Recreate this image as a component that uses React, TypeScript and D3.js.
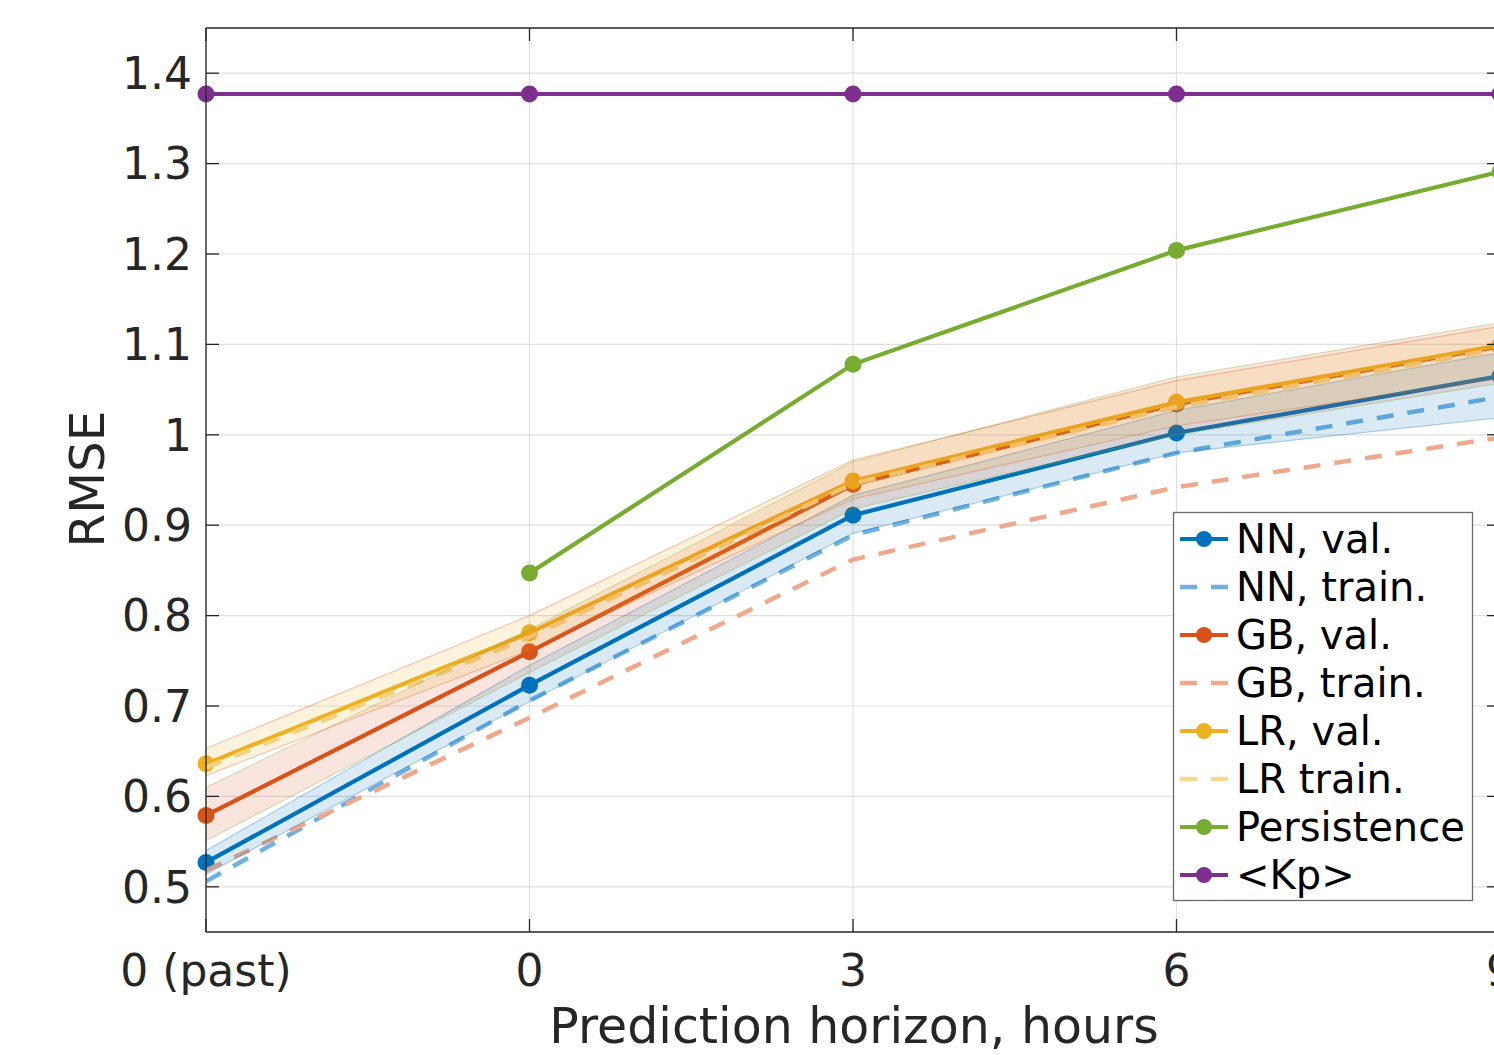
import React, { useEffect, useRef } from 'react';
import * as d3 from 'd3';

// horizon categories (the last one, "9", is cut off at the right edge)
const categories = ['0 (past)', '0', '3', '6', '9'];

// RMSE per model
const nnVal = [0.527, 0.723, 0.911, 1.002, 1.065];
const nnTrain = [0.506, 0.706, 0.889, 0.980, 1.042];
const gbVal = [0.579, 0.760, 0.945, 1.034, 1.098];
const gbTrain = [0.518, 0.687, 0.862, 0.942, 0.997];
const lrVal = [0.636, 0.781, 0.949, 1.036, 1.099];
const lrTrain = [0.632, 0.776, 0.946, 1.031, 1.095];
const persistence = [null, 0.847, 1.078, 1.204, 1.291];
const kpMean = [1.377, 1.377, 1.377, 1.377, 1.377];

// spread bands (lower / upper)
const nnLow = [0.514, 0.705, 0.891, 0.980, 1.019];
const nnHigh = [0.540, 0.745, 0.933, 1.027, 1.091];
const gbLow = [0.551, 0.737, 0.918, 1.000, 1.057];
const gbHigh = [0.610, 0.785, 0.970, 1.064, 1.124];
const lrLow = [0.623, 0.762, 0.929, 1.010, 1.062];
const lrHigh = [0.653, 0.800, 0.972, 1.060, 1.120];

const yTicks = [0.5, 0.6, 0.7, 0.8, 0.9, 1.0, 1.1, 1.2, 1.3, 1.4];

const BLUE = '#0072BD';
const ORANGE = '#D95319';
const YELLOW = '#EDB120';
const GREEN = '#77AC30';
const PURPLE = '#7E2F8E';

const series = [
  { name: 'NN, val.', values: nnVal, color: BLUE, dash: null, marker: true, width: 4.2 },
  { name: 'NN, train.', values: nnTrain, color: '#6fb0e0', dash: '17,14', marker: false, width: 4.5 },
  { name: 'GB, val.', values: gbVal, color: ORANGE, dash: null, marker: true, width: 4.2 },
  { name: 'GB, train.', values: gbTrain, color: '#f0a88c', dash: '17,14', marker: false, width: 4.5 },
  { name: 'LR, val.', values: lrVal, color: YELLOW, dash: null, marker: true, width: 4.2 },
  { name: 'LR train.', values: lrTrain, color: '#f6d98e', dash: '17,14', marker: false, width: 4.5 },
  { name: 'Persistence', values: persistence, color: GREEN, dash: null, marker: true, width: 4.2 },
  { name: '<Kp>', values: kpMean, color: PURPLE, dash: null, marker: true, width: 4.2 },
];

const bands = [
  { low: nnLow, high: nnHigh, fill: BLUE, edge: BLUE },
  { low: gbLow, high: gbHigh, fill: ORANGE, edge: GREEN },
  { low: lrLow, high: lrHigh, fill: YELLOW, edge: ORANGE },
];

const FONT = '"DejaVu Sans", sans-serif';
const AXIS = '#262626';

export default function App() {
  const ref = useRef(null);

  useEffect(() => {
    const width = 1494;
    const height = 1055;
    const left = 206, right = 1500, top = 28, bottom = 932;

    const svg = d3.select(ref.current);
    svg.selectAll('*').remove();
    svg.attr('width', width).attr('height', height);

    svg.append('rect').attr('width', width).attr('height', height).attr('fill', '#fff');

    const x = d3.scalePoint().domain(categories).range([left, right]);
    const y = d3.scaleLinear().domain([0.45, 1.45]).range([bottom, top]);

    // grid
    const grid = svg.append('g');
    grid.selectAll('.gx')
      .data(categories)
      .join('line')
      .attr('x1', d => x(d)).attr('x2', d => x(d))
      .attr('y1', top).attr('y2', bottom)
      .attr('stroke', '#dfdfdf').attr('stroke-width', 1.2);
    grid.selectAll('.gy')
      .data(yTicks)
      .join('line')
      .attr('x1', left).attr('x2', right)
      .attr('y1', d => y(d)).attr('y2', d => y(d))
      .attr('stroke', '#dfdfdf').attr('stroke-width', 1.2);

    // lines
    const line = d3.line()
      .defined(d => d != null)
      .x((d, i) => x(categories[i]))
      .y(d => y(d));

    series.forEach(s => {
      svg.append('path')
        .datum(s.values)
        .attr('fill', 'none')
        .attr('stroke', s.color)
        .attr('stroke-width', s.width)
        .attr('stroke-dasharray', s.dash)
        .attr('d', line);
      if (s.marker) {
        svg.append('g')
          .selectAll('circle')
          .data(s.values.map((v, i) => ({ v, i })).filter(d => d.v != null))
          .join('circle')
          .attr('cx', d => x(categories[d.i]))
          .attr('cy', d => y(d.v))
          .attr('r', 8.5)
          .attr('fill', s.color);
      }
    });

    // shaded spread, drawn over the lines like the original
    const area = d3.area()
      .x((d, i) => x(categories[i]))
      .y0(d => y(d[0]))
      .y1(d => y(d[1]));

    bands.forEach(b => {
      const pts = b.low.map((v, i) => [v, b.high[i]]);
      svg.append('path')
        .datum(pts)
        .attr('fill', b.fill)
        .attr('fill-opacity', 0.15)
        .attr('stroke', b.edge)
        .attr('stroke-opacity', 0.3)
        .attr('stroke-width', 1.2)
        .attr('d', area);
    });

    // axes box
    const ax = svg.append('g').attr('stroke', AXIS).attr('stroke-width', 1.3);
    ax.append('line').attr('x1', left).attr('x2', left).attr('y1', top).attr('y2', bottom);
    ax.append('line').attr('x1', left).attr('x2', right).attr('y1', top).attr('y2', top);
    ax.append('line').attr('x1', left).attr('x2', right).attr('y1', bottom).attr('y2', bottom);
    ax.append('line').attr('x1', right).attr('x2', right).attr('y1', top).attr('y2', bottom);

    const tl = 13;
    yTicks.forEach(t => {
      ax.append('line').attr('x1', left).attr('x2', left + tl).attr('y1', y(t)).attr('y2', y(t));
      ax.append('line').attr('x1', right).attr('x2', right - tl).attr('y1', y(t)).attr('y2', y(t));
    });
    categories.forEach(c => {
      ax.append('line').attr('x1', x(c)).attr('x2', x(c)).attr('y1', bottom).attr('y2', bottom - tl);
      ax.append('line').attr('x1', x(c)).attr('x2', x(c)).attr('y1', top).attr('y2', top + tl);
    });

    // tick labels
    svg.append('g')
      .selectAll('text')
      .data(yTicks)
      .join('text')
      .attr('x', 192)
      .attr('y', d => y(d))
      .attr('dy', '0.36em')
      .attr('text-anchor', 'end')
      .attr('font-family', FONT)
      .attr('font-size', 44)
      .attr('fill', AXIS)
      .text(d => d3.format('~g')(d));

    svg.append('g')
      .selectAll('text')
      .data(categories)
      .join('text')
      .attr('x', d => x(d))
      .attr('y', 970)
      .attr('dy', '0.36em')
      .attr('text-anchor', 'middle')
      .attr('font-family', FONT)
      .attr('font-size', 44)
      .attr('fill', AXIS)
      .text(d => d);

    // axis titles
    svg.append('text')
      .attr('x', 854)
      .attr('y', 1025)
      .attr('dy', '0.36em')
      .attr('text-anchor', 'middle')
      .attr('font-family', FONT)
      .attr('font-size', 49)
      .attr('fill', AXIS)
      .text('Prediction horizon, hours');

    svg.append('text')
      .attr('transform', 'translate(87,479) rotate(-90)')
      .attr('dy', '0.36em')
      .attr('text-anchor', 'middle')
      .attr('font-family', FONT)
      .attr('font-size', 48.5)
      .attr('fill', AXIS)
      .text('RMSE');

    // legend
    const lg = svg.append('g');
    lg.append('rect')
      .attr('x', 1173.5).attr('y', 512.5)
      .attr('width', 299).attr('height', 388)
      .attr('fill', '#fff')
      .attr('stroke', '#6b6b6b')
      .attr('stroke-width', 1.3);

    series.forEach((s, i) => {
      const cy = 539 + i * 48;
      lg.append('line')
        .attr('x1', 1180).attr('x2', 1228)
        .attr('y1', cy).attr('y2', cy)
        .attr('stroke', s.color)
        .attr('stroke-width', s.width)
        .attr('stroke-dasharray', s.dash ? '17,14' : null);
      if (s.marker) {
        lg.append('circle').attr('cx', 1204).attr('cy', cy).attr('r', 8).attr('fill', s.color);
      }
      lg.append('text')
        .attr('x', 1236)
        .attr('y', cy)
        .attr('dy', '0.36em')
        .attr('font-family', FONT)
        .attr('font-size', 40)
        .attr('fill', '#000')
        .text(s.name);
    });
  }, []);

  return (
    <svg ref={ref} style={{ position: 'absolute', left: 0, top: 0, display: 'block' }} />
  );
}
